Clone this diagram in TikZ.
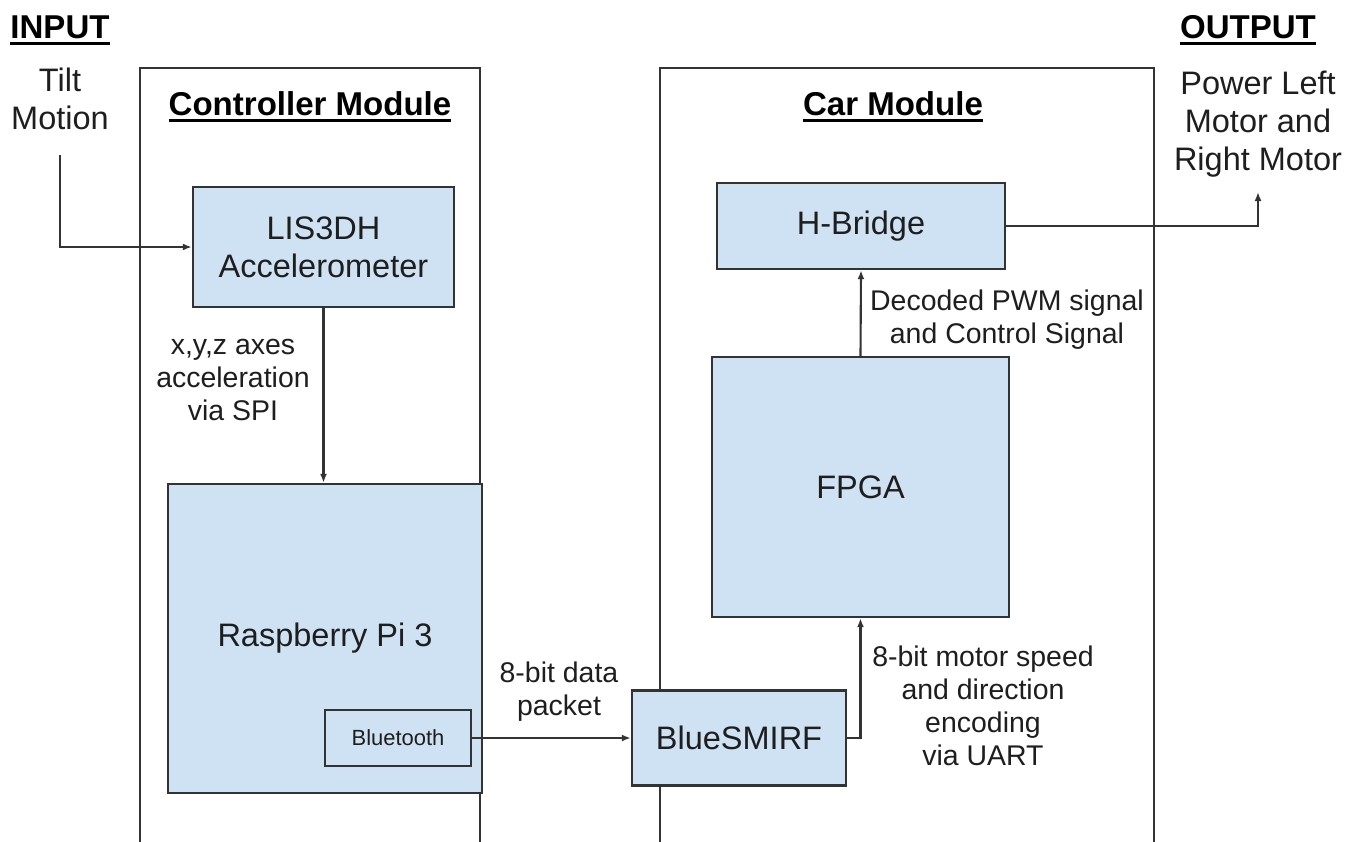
\documentclass[tikz,border=0pt]{standalone}
\usepackage{fontspec}
\setmainfont{Liberation Sans}
\usetikzlibrary{arrows.meta}
\definecolor{boxfill}{HTML}{CFE2F3}
\definecolor{linec}{HTML}{333333}
\definecolor{txt}{HTML}{1E1E1E}
\newcommand{\thickul}[1]{\vtop{\hbox{#1}\kern1.9pt\hrule height 1.7pt}}
\begin{document}
\begin{tikzpicture}[x=0.02cm,y=-0.02cm,
  blk/.style={draw=linec, fill=boxfill, line width=1.4pt, inner sep=0pt, align=center, text=txt,
    font=\fontsize{18.5}{21.6}\selectfont},
  smallblk/.style={blk, font=\fontsize{12.5}{15}\selectfont},
  lbl/.style={inner sep=0pt, align=center, text=txt, font=\fontsize{16.2}{18.9}\selectfont},
  io/.style={inner sep=0pt, align=center, text=txt, font=\fontsize{18.5}{21.8}\selectfont},
  hdr/.style={inner sep=0pt, anchor=base, text=black, font=\fontsize{18.8}{22}\selectfont\bfseries},
  conn/.style={draw=linec, line width=1.2pt, -{Latex[length=1.8mm,width=1.4mm]}},
  modframe/.style={draw=linec, line width=1.2pt}]
\useasboundingbox (0,0) rectangle (1363,842);
\fill[white] (0,0) rectangle (1363,842);

% module frames (open at the bottom)
\draw[modframe] (140,860) -- (140,68) -- (480,68) -- (480,860);
\draw[modframe] (660,860) -- (660,68) -- (1154,68) -- (1154,860);

% headings
\node[hdr] (inhdr) at (60,38) {\thickul{INPUT}};
\node[hdr] (outhdr) at (1248,38) {\thickul{OUTPUT}};
\node[hdr] (ctrlhdr) at (310,115) {\thickul{Controller Module}};
\node[hdr] (carhdr) at (893,115) {\thickul{Car Module}};

% input / output texts
\node[io] (tilt) at (60,99) {Tilt\\Motion};
\node[io] (power) at (1258,124) {Power Left\\Motor and\\Right Motor};
\coordinate (tiltstart) at (60,155);
\coordinate (powerend) at (1258,192);

% blocks
\node[blk, minimum width=5.22cm, minimum height=2.4cm] (lis) at (323.5,247) {LIS3DH\\Accelerometer};
\node[blk, minimum width=6.28cm, minimum height=6.18cm] (rpi) at (325,638.5) {Raspberry Pi 3};
\node[smallblk, minimum width=2.92cm, minimum height=1.12cm] (bt) at (398,738) {Bluetooth};
\node[blk, minimum width=4.28cm, minimum height=1.9cm] (bs) at (739,738) {BlueSMIRF};
\node[blk, minimum width=5.94cm, minimum height=5.2cm] (fpga) at (860.5,487) {FPGA};
\node[blk, minimum width=5.76cm, minimum height=1.72cm] (hb) at (861,226) {H-Bridge};

% connectors
\draw[conn] (tiltstart) |- (lis.west);
\draw[conn] (lis.south) -- (lis.south |- rpi.north);
\draw[conn] (bt.east) -- (bs.west);
\draw[conn] (bs.east) -| (fpga.south);
\draw[conn] (fpga.north) -- (hb.south);
\draw[conn] (hb.east) -| (powerend);

% connector labels
\node[lbl] (l1) at (233,380) {x,y,z axes\\acceleration\\via SPI};
\node[lbl] (l2) at (559,692) {8-bit data\\packet};
\node[lbl] (l3) at (1007,320) {Decoded PWM signal\\and Control Signal};
\node[lbl] (l4) at (983,706) {8-bit motor speed\\and direction\\encoding\\via UART};
\end{tikzpicture}
\end{document}
